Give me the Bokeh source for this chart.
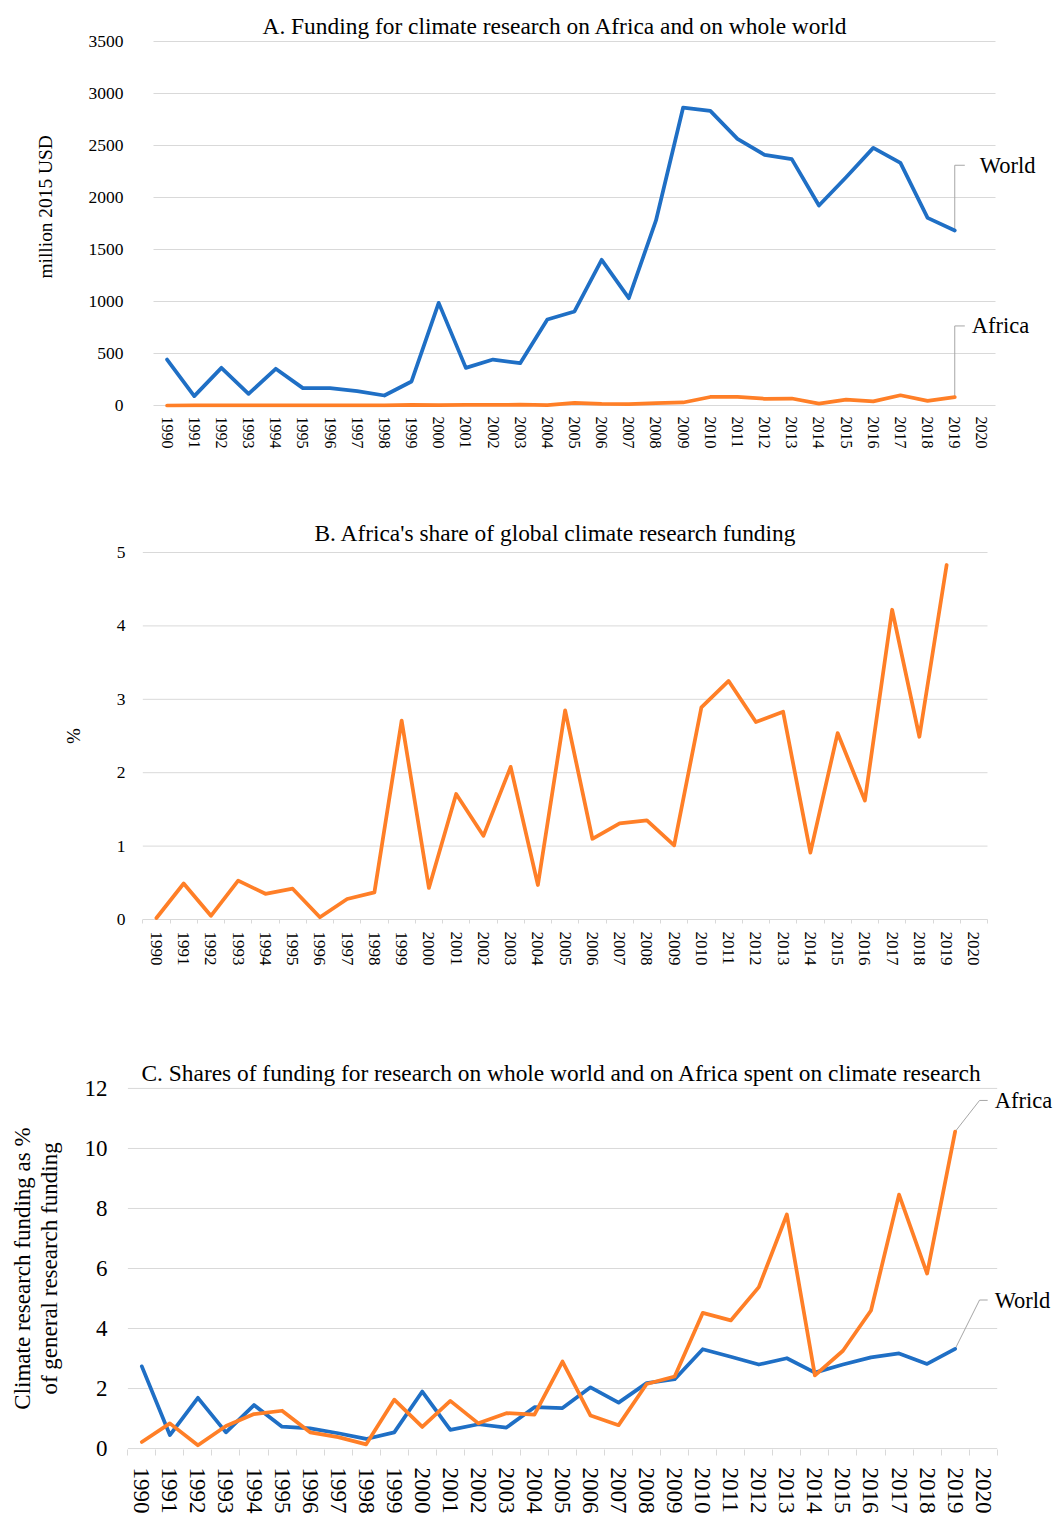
from bokeh.plotting import figure
from bokeh.models import Range1d, FixedTicker, Label, Title
from bokeh.layouts import column
from bokeh.embed import file_html
from bokeh.resources import INLINE

# ---------------- data ----------------
years = list(range(1990, 2020))
tick_years = list(range(1990, 2021))

# A. Funding for climate research (million 2015 USD)
world_funding = [442, 90, 362, 112, 353, 167, 167, 138, 96, 231,
                 987, 362, 442, 407, 827, 904, 1401, 1032, 1779, 2865,
                 2833, 2564, 2410, 2369, 1923, 2195, 2477, 2333, 1804, 1683]
africa_funding = [0.0, 0.4, 0.1, 0.6, 1.2, 0.7, 0.05, 0.4, 0.35, 6.2,
                  4.2, 6.2, 5.0, 8.4, 3.9, 25.8, 15.4, 13.5, 24.0, 29.0,
                  81.8, 83.3, 64.8, 67.0, 17.5, 55.8, 40.1, 98.4, 44.9, 81.3]

# B. Africa's share of global climate research funding (%)
africa_share = [0.02, 0.49, 0.05, 0.53, 0.35, 0.42, 0.03, 0.28, 0.37, 2.71,
                0.43, 1.71, 1.14, 2.08, 0.47, 2.85, 1.10, 1.31, 1.35, 1.01,
                2.89, 3.25, 2.69, 2.83, 0.91, 2.54, 1.62, 4.22, 2.49, 4.83]

# C. Climate research funding as % of general research funding
world_climate_pct = [2.74, 0.45, 1.69, 0.54, 1.45, 0.73, 0.67, 0.51, 0.32, 0.54,
                     1.90, 0.62, 0.81, 0.70, 1.38, 1.35, 2.04, 1.53, 2.18, 2.31,
                     3.31, 3.06, 2.80, 3.01, 2.53, 2.80, 3.04, 3.17, 2.82, 3.32]
africa_climate_pct = [0.22, 0.84, 0.11, 0.75, 1.15, 1.26, 0.54, 0.38, 0.14, 1.63,
                      0.72, 1.59, 0.84, 1.18, 1.13, 2.90, 1.10, 0.78, 2.15, 2.40,
                      4.52, 4.27, 5.38, 7.80, 2.44, 3.26, 4.60, 8.46, 5.83, 10.56]

ticks_a = [0, 500, 1000, 1500, 2000, 2500, 3000, 3500]
ticks_b = [0, 1, 2, 3, 4, 5]
ticks_c = [0, 2, 4, 6, 8, 10, 12]

title_a = "A. Funding for climate research on Africa and on whole world"
title_b = "B. Africa's share of global climate research funding"
title_c = "C. Shares of funding for research on whole world and on Africa spent on climate research"

# ---------------- style / layout ----------------
FONT = "Liberation Serif"
BLUE = "#1f6fc5"
ORANGE = "#ff7f27"
GRID = "#d9d9d9"
LEADER = "#a6a6a6"
TXT = "#000000"
LW = 3.75
W = 1054          # figure width
FRAME_L = 127     # common frame left edge (all panels)
X_LO, X_HI = 1989.5, 2020.5
minor_bounds = [y - 0.5 for y in tick_years] + [tick_years[-1] + 0.5]


def base_fig(height, top, fh, data_left, data_right, ymin, ymax, pad_px, span_px):
    ppu = (data_right - data_left) / (X_HI - X_LO)
    x_start = X_LO - (data_left - FRAME_L) / ppu
    x_end = X_HI + (W - data_right) / ppu
    pad = (ymax - ymin) * pad_px / span_px
    p = figure(width=W, height=height, output_backend="svg", toolbar_location=None, tools="",
               x_range=Range1d(x_start, x_end),
               y_range=Range1d(ymin - pad, ymax + pad),
               min_border_left=FRAME_L, min_border_right=0,
               min_border_top=top, min_border_bottom=height - top - fh)
    p.outline_line_color = None
    p.background_fill_color = "white"
    p.border_fill_color = "white"
    p.grid.visible = False
    p.yaxis.axis_line_color = None
    p.yaxis.major_tick_line_color = None
    p.yaxis.minor_tick_line_color = None
    p.yaxis.major_tick_out = 0
    p.yaxis.major_label_text_font = FONT
    p.yaxis.major_label_text_color = TXT
    p.yaxis.axis_label_text_font = FONT
    p.yaxis.axis_label_text_font_style = "normal"
    p.yaxis.axis_label_text_color = TXT
    p.xaxis.axis_line_color = None
    p.xaxis.major_tick_line_color = None
    p.xaxis.major_tick_out = 0
    p.xaxis.major_tick_in = 0
    p.xaxis.major_label_orientation = "vertical"
    p.xaxis.major_label_text_font = FONT
    p.xaxis.major_label_text_color = TXT
    p.xaxis.major_label_overrides = {y: str(y) for y in tick_years}
    p.title.text_font = FONT
    p.title.text_font_style = "normal"
    p.title.text_color = TXT
    p.title.align = "left"
    p.title.text_font_size = "23.4px"
    return p


def gridlines(p, ticks):
    p.segment(x0=X_LO, x1=X_HI, y0=ticks, y1=ticks, line_color=GRID, line_width=1)


# ---------------- panel A ----------------
pa = base_fig(480, 39, 368, 153, 995, 0, 3500, 2, 364)
pa.title.text = title_a
pa.title.offset = 135
pa.title.standoff = 2
gridlines(pa, ticks_a)
pa.yaxis.ticker = FixedTicker(ticks=ticks_a)
pa.yaxis.major_label_text_font_size = "17.5px"
pa.yaxis.major_label_standoff = 4
pa.xaxis.ticker = FixedTicker(ticks=tick_years, minor_ticks=[])
pa.xaxis.minor_tick_line_color = None
pa.xaxis.major_label_text_font_size = "16px"
pa.xaxis.major_label_standoff = 9
pa.add_layout(Title(text="million 2015 USD", align="left", offset=129, text_font=FONT,
                    text_font_size="19.4px", text_font_style="normal", text_color=TXT,
                    standoff=60), "left")

pa.line([2019, 2019, 2019.37], [world_funding[-1], 2310, 2310], line_color=LEADER, line_width=1)
pa.line([2019, 2019, 2019.37], [africa_funding[-1], 765, 765], line_color=LEADER, line_width=1)
pa.line(years, world_funding, line_color=BLUE, line_width=LW, line_join="round", line_cap="round")
pa.line(years, africa_funding, line_color=ORANGE, line_width=LW, line_join="round", line_cap="round")
pa.add_layout(Label(x=2019.92, y=2310, text="World", text_font=FONT, text_font_size="22.5px",
                    text_baseline="middle", text_align="left", text_color=TXT))
pa.add_layout(Label(x=2019.63, y=765, text="Africa", text_font=FONT, text_font_size="22.5px",
                    text_baseline="middle", text_align="left", text_color=TXT))

# ---------------- panel B ----------------
pb = base_fig(560, 70, 371, 142.3, 987, 0, 5, 2, 367)
pb.title.text = title_b
pb.title.offset = 187
pb.title.standoff = 10
gridlines(pb, ticks_b)
pb.yaxis.ticker = FixedTicker(ticks=ticks_b)
pb.yaxis.major_label_text_font_size = "17.5px"
pb.yaxis.major_label_standoff = 2
pb.yaxis.axis_label = "%"
pb.yaxis.axis_label_text_font_size = "19px"
pb.yaxis.axis_label_standoff = 30
pb.xaxis.ticker = FixedTicker(ticks=tick_years, minor_ticks=minor_bounds)
pb.xaxis.minor_tick_line_color = GRID
pb.xaxis.minor_tick_in = 2
pb.xaxis.minor_tick_out = 2
pb.xaxis.major_label_text_font_size = "17px"
pb.xaxis.major_label_standoff = 8
pb.line(years, africa_share, line_color=ORANGE, line_width=LW, line_join="round", line_cap="round")

# ---------------- panel C ----------------
pc = base_fig(476, 46, 376, 127.3, 996.7, 0, 12, 2, 372)
pc.title.text = title_c
pc.title.offset = 14
pc.title.standoff = 2
gridlines(pc, ticks_c)
pc.yaxis.ticker = FixedTicker(ticks=ticks_c)
pc.yaxis.major_label_text_font_size = "23px"
pc.yaxis.major_label_standoff = 20
pc.yaxis.axis_label = "Climate research funding as %\nof general research funding"
pc.yaxis.axis_label_text_font_size = "23px"
pc.yaxis.axis_label_text_line_height = 1.075
pc.yaxis.axis_label_standoff = 20
pc.xaxis.ticker = FixedTicker(ticks=tick_years, minor_ticks=minor_bounds)
pc.xaxis.minor_tick_line_color = GRID
pc.xaxis.minor_tick_in = 1
pc.xaxis.minor_tick_out = 5
pc.xaxis.major_label_text_font_size = "23px"
pc.xaxis.major_label_standoff = 12

pc.line([2019, 2019.87, 2020.16], [africa_climate_pct[-1], 11.6, 11.6], line_color=LEADER, line_width=1)
pc.line([2019, 2019.87, 2020.16], [world_climate_pct[-1], 4.95, 4.95], line_color=LEADER, line_width=1)
pc.line(years, world_climate_pct, line_color=BLUE, line_width=LW, line_join="round", line_cap="round")
pc.line(years, africa_climate_pct, line_color=ORANGE, line_width=LW, line_join="round", line_cap="round")
pc.add_layout(Label(x=2020.41, y=11.6, text="Africa", text_font=FONT, text_font_size="22.5px",
                    text_baseline="middle", text_align="left", text_color=TXT))
pc.add_layout(Label(x=2020.41, y=4.95, text="World", text_font=FONT, text_font_size="22.5px",
                    text_baseline="middle", text_align="left", text_color=TXT))

layout = column(pa, pb, pc, spacing=0)
open("out.html", "w").write(file_html(layout, INLINE))
